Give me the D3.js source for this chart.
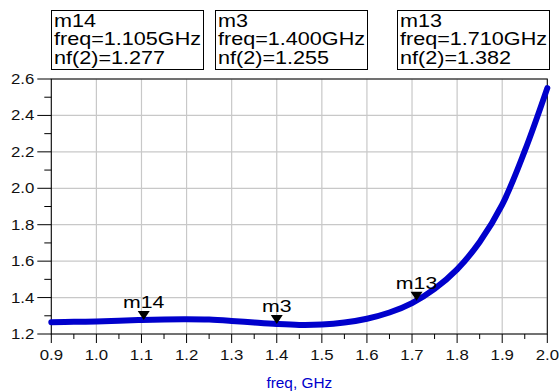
<!DOCTYPE html>
<html>
<head>
<meta charset="utf-8">
<script src="https://cdn.jsdelivr.net/npm/d3@7"></script>
<style>
  html, body { margin: 0; padding: 0; background: #fff; }
  svg { display: block; font-family: "Liberation Sans", Arial, sans-serif; }
</style>
</head>
<body>
<svg id="chart" width="559" height="392"></svg>
<script>
// noise figure nf(2) vs frequency (GHz)
var freq = [0.90, 0.95, 1.00, 1.05, 1.10, 1.15, 1.20, 1.25, 1.30, 1.35, 1.40, 1.45,
            1.50, 1.55, 1.60, 1.65, 1.70, 1.75, 1.80, 1.85, 1.90, 1.95, 2.00];
var nf   = [1.265, 1.267, 1.269, 1.273, 1.277, 1.280, 1.281, 1.279, 1.272, 1.263, 1.255, 1.250,
            1.252, 1.263, 1.284, 1.318, 1.370, 1.448, 1.555, 1.705, 1.910, 2.205, 2.550];

// markers
var markerNames = ["m14", "m3", "m13"];
var markerFreq  = [1.105, 1.400, 1.710];
var markerNf    = [1.277, 1.255, 1.382];

var xLabel = "freq, GHz";

var svg = d3.select("#chart");
var margin = {left: 51.3, right: 11.7, top: 79, bottom: 58};
var W = 559, H = 392;

var x = d3.scaleLinear().domain([0.9, 2.0]).range([margin.left, W - margin.right]);
var y = d3.scaleLinear().domain([1.2, 2.6]).range([H - margin.bottom, margin.top]);

var x0 = x.range()[0], x1 = x.range()[1], y0 = y.range()[0], y1 = y.range()[1];

// text in the original is stretched horizontally
function stretch(sel, px, py, s) {
    sel.attr("x", 0).attr("y", 0)
       .attr("transform", "translate(" + px + "," + py + ") scale(" + s + ",1)");
}

// grid
var grid = svg.append("g");
grid.selectAll("line.gx").data(x.ticks(10)).enter().append("line")
    .attr("x1", function(d){ return x(d); }).attr("x2", function(d){ return x(d); })
    .attr("y1", y1).attr("y2", y0)
    .style("stroke", "#c8c8c8").style("stroke-width", 1.2);
grid.selectAll("line.gy").data(y.ticks(7)).enter().append("line")
    .attr("y1", function(d){ return y(d); }).attr("y2", function(d){ return y(d); })
    .attr("x1", x0).attr("x2", x1)
    .style("stroke", "#c8c8c8").style("stroke-width", 1.2);

// x axis ticks: major 0.1, minor 0.05
var xMinor = x.ticks(20);
svg.append("g").selectAll("line").data(xMinor).enter().append("line")
    .attr("x1", function(d){ return x(d); }).attr("x2", function(d){ return x(d); })
    .attr("y1", y0)
    .attr("y2", function(d, i){ return y0 + (i % 2 === 0 ? 9 : 5); })
    .style("stroke", "#000").style("stroke-width", 1);

svg.append("g").selectAll("text").data(x.ticks(10)).enter().append("text")
    .text(d3.format(".1f"))
    .attr("text-anchor", "middle")
    .style("font-size", "14px").style("fill", "#111")
    .each(function(d){ stretch(d3.select(this), x(d), y0 + 26, 1.2); });

// y axis ticks: major 0.2, minor 0.1
var yMinor = y.ticks(14);
svg.append("g").selectAll("line").data(yMinor).enter().append("line")
    .attr("y1", function(d){ return y(d); }).attr("y2", function(d){ return y(d); })
    .attr("x1", x0)
    .attr("x2", function(d, i){ return x0 - (i % 2 === 0 ? 14 : 7); })
    .style("stroke", "#000").style("stroke-width", 1);

svg.append("g").selectAll("text").data(y.ticks(7)).enter().append("text")
    .text(d3.format(".1f"))
    .attr("text-anchor", "end")
    .attr("dominant-baseline", "central")
    .style("font-size", "14px").style("fill", "#111")
    .each(function(d){ stretch(d3.select(this), x0 - 17, y(d), 1.2); });

// frame
svg.append("rect")
    .attr("x", x0).attr("y", y1).attr("width", x1 - x0).attr("height", y0 - y1)
    .style("fill", "none").style("stroke", "#000").style("stroke-width", 1);

// curve
var line = d3.line()
    .x(function(d){ return x(d[0]); })
    .y(function(d){ return y(d[1]); })
    .curve(d3.curveCatmullRom.alpha(0.5));

svg.append("path")
    .datum(d3.zip(freq, nf))
    .attr("d", line)
    .style("fill", "none").style("stroke", "#0000cc")
    .style("stroke-width", 6).style("stroke-linecap", "round");

// markers on the curve
var markers = markerNames.map(function(n, i){ return {name: n, f: markerFreq[i], v: markerNf[i]}; });

var mk = svg.append("g").selectAll("g").data(markers).enter().append("g");
mk.append("path")
    .attr("d", function(d){
        var px = x(d.f), py = y(d.v);
        return "M" + px + "," + py + "L" + (px - 6) + "," + (py - 9) + "L" + (px + 6) + "," + (py - 9) + "Z";
    })
    .style("fill", "#000");
mk.append("text")
    .text(function(d){ return d.name; })
    .attr("text-anchor", "middle")
    .style("font-size", "16px").style("fill", "#000")
    .each(function(d){ stretch(d3.select(this), x(d.f), y(d.v) - 12, 1.33); });

// marker readout boxes
var boxLeft = [51, 215, 397];
var boxTop = 10, boxH = 59, boxS = 1.2;

markers.forEach(function(d, i){
    var g = svg.append("g");
    var lines = [d.name, "freq=" + d.f.toFixed(3) + "GHz", "nf(2)=" + d.v.toFixed(3)];
    var tg = g.append("g")
        .attr("transform", "translate(" + (boxLeft[i] + 3) + ",0) scale(" + boxS + ",1)");
    tg.selectAll("text").data(lines).enter().append("text")
        .text(function(t){ return t; })
        .attr("x", 0)
        .attr("y", function(t, j){ return 27 + j * 18.5; })
        .style("font-size", "18px").style("fill", "#000");
    var w = tg.node().getBBox().width * boxS;
    g.insert("rect", ":first-child")
        .attr("x", boxLeft[i] + 0.5).attr("y", boxTop + 0.5)
        .attr("width", Math.round(w + 5)).attr("height", boxH)
        .style("fill", "#fff").style("stroke", "#000").style("stroke-width", 1);
});

// x axis title
svg.append("text")
    .text(xLabel)
    .attr("text-anchor", "middle")
    .style("font-size", "14px").style("fill", "#0000cc")
    .each(function(){ stretch(d3.select(this), (x0 + x1) / 2, 388, 1.1); });
</script>
</body>
</html>
